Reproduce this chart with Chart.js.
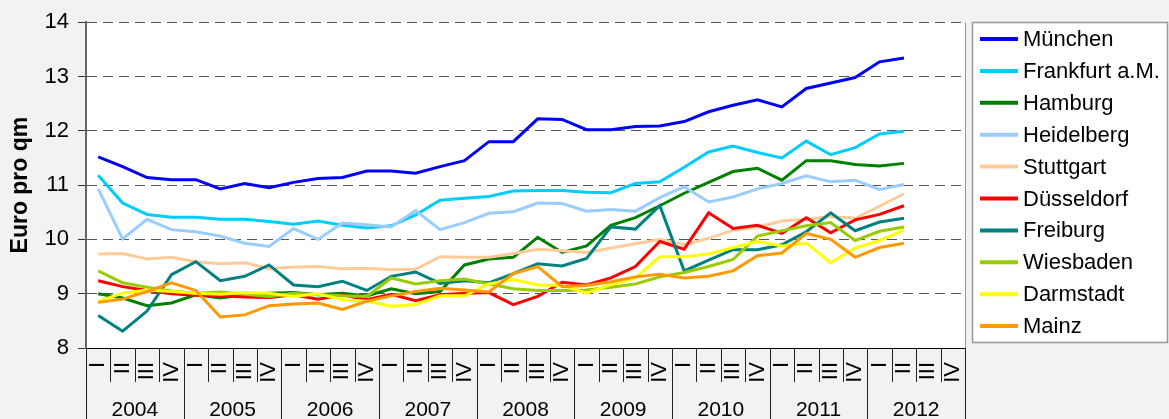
<!DOCTYPE html>
<html>
<head>
<meta charset="utf-8">
<script src="https://cdn.jsdelivr.net/npm/chart.js@4/dist/chart.umd.min.js"></script>
<style>
  body { margin: 0; background: #f2f2f2; }
  #wrap { width: 1169px; height: 419px; position: relative; }
</style>
</head>
<body>
<div id="wrap"><canvas id="chart"></canvas></div>
<script>
// Angebotsmieten, Euro pro qm, Quartale 2004 I bis 2012 II
const years = ['2004', '2005', '2006', '2007', '2008', '2009', '2010', '2011', '2012'];
const quarters = ['I', 'II', 'III', 'IV'];
const yTicks = [8, 9, 10, 11, 12, 13, 14];

const muenchen   = [11.52, 11.34, 11.14, 11.10, 11.10, 10.93, 11.03, 10.95, 11.05, 11.12, 11.14, 11.26, 11.26, 11.22, 11.34, 11.45, 11.80, 11.80, 12.22, 12.21, 12.02, 12.02, 12.08, 12.09, 12.17, 12.35, 12.47, 12.57, 12.44, 12.78, 12.88, 12.98, 13.27, 13.34, null, null];
const frankfurt  = [11.18, 10.67, 10.46, 10.41, 10.41, 10.37, 10.37, 10.33, 10.28, 10.34, 10.26, 10.21, 10.25, 10.45, 10.72, 10.76, 10.79, 10.89, 10.90, 10.90, 10.87, 10.86, 11.03, 11.06, 11.33, 11.61, 11.72, 11.60, 11.50, 11.81, 11.56, 11.69, 11.94, 11.99, null, null];
const hamburg    = [9.00, 8.92, 8.78, 8.83, 8.98, 8.92, 8.98, 9.01, 9.02, 8.98, 9.01, 8.96, 9.09, 9.00, 9.04, 9.53, 9.64, 9.67, 10.04, 9.76, 9.88, 10.26, 10.40, 10.62, 10.85, 11.05, 11.25, 11.31, 11.09, 11.45, 11.45, 11.38, 11.35, 11.40, null, null];
const heidelberg = [10.93, 10.01, 10.37, 10.18, 10.14, 10.06, 9.93, 9.87, 10.20, 10.00, 10.30, 10.27, 10.23, 10.53, 10.18, 10.31, 10.48, 10.51, 10.67, 10.66, 10.52, 10.55, 10.52, 10.77, 10.97, 10.69, 10.78, 10.93, 11.03, 11.17, 11.06, 11.09, 10.92, 11.01, null, null];
const stuttgart  = [9.73, 9.74, 9.64, 9.67, 9.59, 9.55, 9.57, 9.46, 9.49, 9.50, 9.46, 9.47, 9.44, 9.45, 9.68, 9.67, 9.67, 9.74, 9.82, 9.79, 9.76, 9.84, 9.92, 10.00, 9.90, 10.02, 10.17, 10.23, 10.34, 10.37, 10.42, 10.39, 10.61, 10.84, null, null];
const duesseldorf = [9.24, 9.13, 9.06, 9.00, 8.97, 8.96, 8.94, 8.93, 8.98, 8.90, 8.98, 8.89, 8.99, 8.87, 8.98, 9.01, 9.02, 8.80, 8.95, 9.21, 9.16, 9.29, 9.50, 9.96, 9.82, 10.49, 10.20, 10.26, 10.11, 10.40, 10.12, 10.36, 10.46, 10.62, null, null];
const freiburg   = [8.60, 8.31, 8.68, 9.35, 9.59, 9.24, 9.32, 9.53, 9.16, 9.13, 9.23, 9.06, 9.32, 9.40, 9.19, 9.24, 9.20, 9.37, 9.55, 9.51, 9.65, 10.23, 10.19, 10.62, 9.42, 9.62, 9.81, 9.81, 9.90, 10.14, 10.49, 10.16, 10.32, 10.39, null, null];
const wiesbaden  = [9.42, 9.20, 9.12, 9.05, 9.01, 9.03, 8.99, 8.95, 9.01, 8.98, 8.96, 8.95, 9.29, 9.18, 9.24, 9.27, 9.18, 9.09, 9.06, 9.06, 9.07, 9.12, 9.18, 9.31, 9.39, 9.50, 9.63, 10.06, 10.16, 10.25, 10.31, 9.98, 10.15, 10.23, null, null];
const darmstadt  = [8.86, 9.01, 9.07, 9.04, 9.01, 8.99, 9.02, 9.01, 8.95, 9.00, 8.89, 8.86, 8.77, 8.80, 8.96, 8.96, 9.18, 9.26, 9.16, 9.15, 9.01, 9.17, 9.29, 9.68, 9.68, 9.73, 9.85, 9.96, 9.88, 9.93, 9.57, 9.84, 9.98, 10.17, null, null];
const mainz      = [8.84, 8.90, 9.04, 9.20, 9.06, 8.57, 8.61, 8.78, 8.81, 8.83, 8.71, 8.86, 8.96, 9.04, 9.10, 9.07, 9.03, 9.37, 9.50, 9.13, 9.15, 9.22, 9.31, 9.36, 9.29, 9.32, 9.42, 9.70, 9.75, 10.11, 10.00, 9.67, 9.85, 9.93, null, null];

const cities = ['München', 'Frankfurt a.M.', 'Hamburg', 'Heidelberg', 'Stuttgart', 'Düsseldorf', 'Freiburg', 'Wiesbaden', 'Darmstadt', 'Mainz'];
const series = [muenchen, frankfurt, hamburg, heidelberg, stuttgart, duesseldorf, freiburg, wiesbaden, darmstadt, mainz];
const colors = ['#0000ff', '#00ccff', '#008000', '#99ccff', '#ffcc99', '#ff0000', '#008080', '#99cc00', '#ffff00', '#ff9900'];

const labels = [];
years.forEach(() => quarters.forEach(q => labels.push(q)));

const FONT = '"Liberation Sans", Arial, sans-serif';

// background, year row, separators and boxed legend
const frame = {
  id: 'frame',
  beforeDraw(chart) {
    const { ctx, chartArea: a } = chart;
    ctx.save();
    ctx.fillStyle = '#f2f2f2';
    ctx.fillRect(0, 0, chart.width, chart.height);
    ctx.fillStyle = '#ffffff';
    ctx.fillRect(a.left, a.top, a.right - a.left, a.bottom - a.top);
    ctx.restore();
  },
  afterDraw(chart) {
    const { ctx, chartArea: a } = chart;
    const x = chart.scales.x;
    ctx.save();

    // right edge of the plot
    ctx.lineWidth = 1;
    ctx.strokeStyle = '#999999';
    const rx = Math.round(a.right) + 0.5;
    ctx.beginPath();
    ctx.moveTo(rx, a.top);
    ctx.lineTo(rx, a.bottom);
    ctx.stroke();

    // quarter / year separators below the axis
    ctx.strokeStyle = '#222222';
    for (let i = 0; i <= labels.length; i++) {
      const px = Math.round(x.getPixelForValue(i - 0.5)) + 0.5;
      const yEnd = i % 4 === 0 ? chart.height : a.bottom + 34;
      ctx.beginPath();
      ctx.moveTo(px, a.bottom);
      ctx.lineTo(px, yEnd);
      ctx.stroke();
    }

    // year labels
    ctx.fillStyle = '#000000';
    ctx.font = '21px ' + FONT;
    ctx.textAlign = 'center';
    ctx.textBaseline = 'middle';
    years.forEach((yr, k) => {
      ctx.fillText(yr, x.getPixelForValue(k * 4 + 1.5), a.bottom + 62);
    });

    // legend
    ctx.fillStyle = '#ffffff';
    ctx.fillRect(972, 22, 196, 321);
    ctx.strokeStyle = '#999999';
    ctx.lineWidth = 1.5;
    ctx.strokeRect(972.5, 22.5, 195, 320);
    ctx.font = '22px ' + FONT;
    ctx.textAlign = 'left';
    chart.data.datasets.forEach((ds, k) => {
      const cy = 39 + k * 31.9;
      ctx.strokeStyle = ds.borderColor;
      ctx.lineWidth = 4;
      ctx.beginPath();
      ctx.moveTo(980, cy);
      ctx.lineTo(1018, cy);
      ctx.stroke();
      ctx.fillStyle = '#000000';
      ctx.fillText(ds.label, 1023, cy + 1);
    });
    ctx.restore();
  }
};

new Chart(document.getElementById('chart'), {
  type: 'line',
  data: {
    labels: labels,
    datasets: cities.map((name, i) => ({
      label: name,
      data: series[i],
      borderColor: colors[i],
      backgroundColor: colors[i],
      borderWidth: 3,
      pointRadius: 0,
      tension: 0,
      order: cities.length - i
    }))
  },
  options: {
    responsive: true,
    maintainAspectRatio: false,
    animation: false,
    layout: { padding: { top: 21, right: 204, bottom: 0, left: 0 } },
    plugins: {
      legend: { display: false },
      tooltip: { enabled: false }
    },
    scales: {
      x: {
        offset: true,
        grid: { display: false, drawTicks: false },
        border: { display: true, color: '#000000', width: 1 },
        ticks: {
          autoSkip: false,
          minRotation: 90,
          maxRotation: 90,
          padding: 14,
          color: '#000000',
          font: { family: FONT, size: 22 }
        },
        afterFit: s => { s.height = 71; }
      },
      y: {
        min: yTicks[0],
        max: yTicks[yTicks.length - 1],
        afterBuildTicks: s => { s.ticks = yTicks.map(v => ({ value: v })); },
        grid: {
          color: '#555555',
          lineWidth: 1,
          tickLength: 8,
          tickColor: '#333333',
          tickBorderDash: []
        },
        border: { display: true, color: '#666666', width: 2, dash: [10, 6] },
        ticks: {
          padding: 9,
          color: '#000000',
          font: { family: FONT, size: 22 }
        },
        title: {
          display: true,
          text: 'Euro pro qm',
          color: '#000000',
          font: { family: FONT, size: 23, weight: 'bold' },
          padding: { top: 7, bottom: 0 }
        },
        afterFit: s => { s.width = 86; }
      }
    }
  },
  plugins: [frame]
});
</script>
</body>
</html>
